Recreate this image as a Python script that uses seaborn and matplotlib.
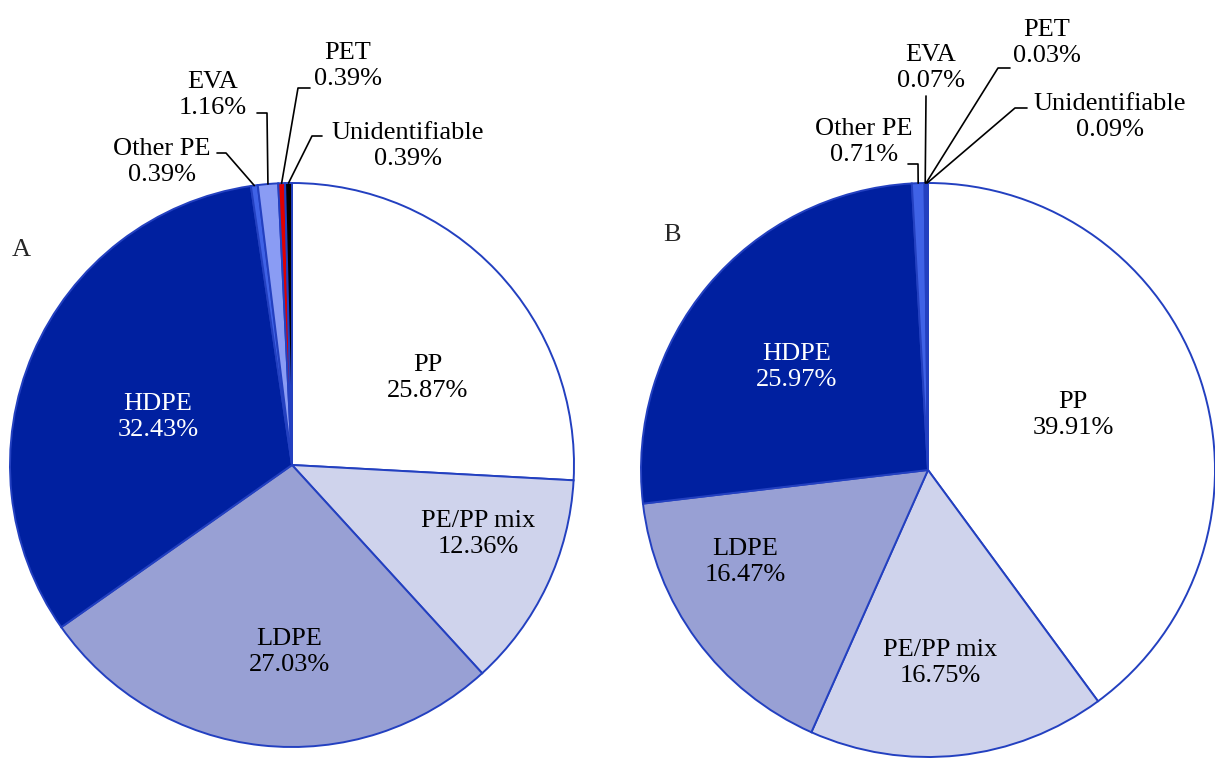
import numpy as np
import matplotlib
matplotlib.use("Agg")
import matplotlib.pyplot as plt
import seaborn as sns

# data
polymers = ['PP', 'PE/PP mix', 'LDPE', 'HDPE', 'Other PE', 'EVA', 'PET', 'Unidentifiable']
share_a = [25.87, 12.36, 27.03, 32.43, 0.39, 1.16, 0.39, 0.39]
share_b = [39.91, 16.75, 16.47, 25.97, 0.71, 0.07, 0.03, 0.09]
slice_colors = ['#ffffff', '#cfd3ec', '#98a0d4', '#0020a0', '#3f62e6', '#8a9cf4', '#e00000', '#000000']

sns.set_theme(style='white')
plt.rcParams['font.family'] = ['Liberation Serif', 'DejaVu Serif']

W, H = 1215, 759
fig = plt.figure(figsize=(W / 100, H / 100), dpi=100)
ax = fig.add_axes([0, 0, 1, 1])

def py(y):
    # pixel row -> axis y
    return H - y

# pie layout (pixel space): centre x, centre y, radius
pies = [
    {'vals': share_a, 'cx': 292, 'cy': 465, 'r': 282, 'tag': 'A', 'tag_xy': (21, 250),
     'labels': {'PP': (428, 378), 'PE/PP mix': (478, 534), 'LDPE': (289, 652), 'HDPE': (158, 417),
                'Other PE': (162, 162), 'EVA': (213, 95), 'PET': (348, 66), 'Unidentifiable': (408, 146)},
     'leaders': {'Other PE': [(217, 153), (226, 153)], 'EVA': [(257, 113), (267, 113)],
                 'PET': [(310, 88), (298, 88)], 'Unidentifiable': [(322, 136), (312, 136)]}},
    {'vals': share_b, 'cx': 928, 'cy': 470, 'r': 287, 'tag': 'B', 'tag_xy': (672, 235),
     'labels': {'PP': (1073, 415), 'PE/PP mix': (940, 663), 'LDPE': (745, 562), 'HDPE': (797, 367),
                'Other PE': (864, 142), 'EVA': (931, 68), 'PET': (1047, 43), 'Unidentifiable': (1110, 117)},
     'leaders': {'Other PE': [(908, 164), (918, 164)], 'EVA': [(926, 96), (926, 96)],
                 'PET': [(1010, 68), (998, 68)], 'Unidentifiable': [(1027, 108), (1015, 108)]}},
]

for p in pies:
    vals = np.array(p['vals'])
    ax.pie(vals, colors=slice_colors, startangle=90, counterclock=False,
           center=(p['cx'], py(p['cy'])), radius=p['r'],
           wedgeprops=dict(edgecolor='#2340c0', linewidth=1.4))
    frac = vals / vals.sum()
    mids = np.cumsum(frac) - frac / 2
    for name, v, m in zip(polymers, p['vals'], mids):
        tx, ty = p['labels'][name]
        col = 'white' if name == 'HDPE' else 'black'
        ax.text(tx, py(ty), f'{name}\n{v:.2f}%', ha='center', va='center',
                fontsize=19, color=col, linespacing=1.2)
        if name in p['leaders']:
            ang = np.deg2rad(90 - 360 * m)
            ex = p['cx'] + p['r'] * np.cos(ang)
            ey = p['cy'] - p['r'] * np.sin(ang)
            pts = p['leaders'][name] + [(ex, ey)]
            ax.plot([q[0] for q in pts], [py(q[1]) for q in pts], color='black', lw=1.2)
    ax.text(p['tag_xy'][0], py(p['tag_xy'][1]), p['tag'], ha='center', va='center', fontsize=19)

ax.set_xlim(0, W)
ax.set_ylim(0, H)
ax.set_aspect('equal')
ax.axis('off')
fig.savefig('out.png', dpi=100, facecolor='white')
